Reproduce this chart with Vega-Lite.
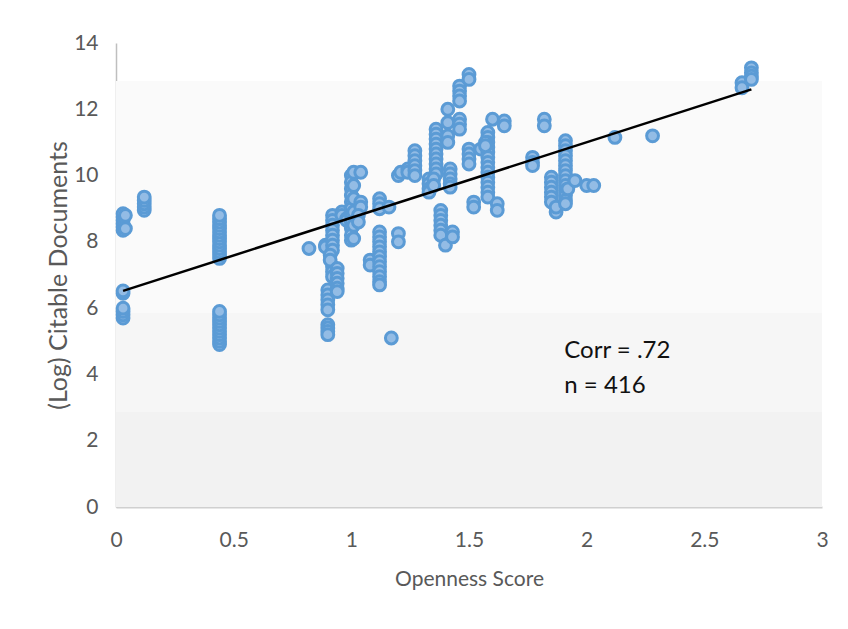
{
  "$schema": "https://vega.github.io/schema/vega-lite/v6.json",
  "autosize": {"type": "none"},
  "width": 706,
  "height": 464,
  "padding": {"left": 116, "top": 43, "right": 26, "bottom": 122},
  "background": "#ffffff",
  "config": {
    "view": {"stroke": null},
    "font": "Lato",
    "axis": {"labelFont": "Lato", "titleFont": "Lato", "labelColor": "#595959", "titleColor": "#595959", "labelFontSize": 21, "titleFontSize": 21, "titleFontWeight": "normal", "grid": false, "ticks": false}
  },
  "datasets": {
    "bands": [
      {"lo": 0, "hi": 2.87, "band": "b1"},
      {"lo": 2.87, "hi": 5.85, "band": "b2"},
      {"lo": 5.85, "hi": 12.85, "band": "b3"}
    ],
    "pts": [
      {"x":0.03,"y":8.35},{"x":0.03,"y":8.45},{"x":0.03,"y":8.55},{"x":0.03,"y":8.65},{"x":0.03,"y":8.75},{"x":0.03,"y":8.85},{"x":0.04,"y":8.4},{"x":0.04,"y":8.8},
      {"x":0.03,"y":6.45},{"x":0.03,"y":6.52},{"x":0.03,"y":5.7},{"x":0.03,"y":5.8},{"x":0.03,"y":5.9},{"x":0.03,"y":6.0},
      {"x":0.12,"y":8.95},{"x":0.12,"y":9.05},{"x":0.12,"y":9.15},{"x":0.12,"y":9.25},{"x":0.12,"y":9.35},
      {"x":0.44,"y":7.5},{"x":0.44,"y":7.6},{"x":0.44,"y":7.7},{"x":0.44,"y":7.8},{"x":0.44,"y":7.9},{"x":0.44,"y":8.0},{"x":0.44,"y":8.1},{"x":0.44,"y":8.2},{"x":0.44,"y":8.3},{"x":0.44,"y":8.4},{"x":0.44,"y":8.5},{"x":0.44,"y":8.6},{"x":0.44,"y":8.7},{"x":0.44,"y":8.8},
      {"x":0.44,"y":4.9},{"x":0.44,"y":5.0},{"x":0.44,"y":5.1},{"x":0.44,"y":5.2},{"x":0.44,"y":5.3},{"x":0.44,"y":5.4},{"x":0.44,"y":5.5},{"x":0.44,"y":5.6},{"x":0.44,"y":5.7},{"x":0.44,"y":5.8},{"x":0.44,"y":5.9},
      {"x":0.82,"y":7.8},{"x":0.89,"y":7.9},{"x":0.89,"y":7.85},
      {"x":0.9,"y":6.55},{"x":0.9,"y":6.4},{"x":0.9,"y":6.25},{"x":0.9,"y":6.1},{"x":0.9,"y":5.95},{"x":0.9,"y":5.5},{"x":0.9,"y":5.4},{"x":0.9,"y":5.3},{"x":0.9,"y":5.2},
      {"x":0.92,"y":8.8},{"x":0.92,"y":8.65},{"x":0.92,"y":8.5},{"x":0.92,"y":8.35},{"x":0.92,"y":8.2},{"x":0.92,"y":8.05},{"x":0.92,"y":7.9},{"x":0.92,"y":7.75},{"x":0.92,"y":7.25},{"x":0.92,"y":7.1},{"x":0.92,"y":6.95},
      {"x":0.91,"y":7.6},{"x":0.91,"y":7.45},
      {"x":0.94,"y":7.2},{"x":0.94,"y":7.05},{"x":0.94,"y":6.9},{"x":0.94,"y":6.75},{"x":0.94,"y":6.6},{"x":0.94,"y":6.5},
      {"x":0.96,"y":8.9},{"x":0.96,"y":8.8},{"x":0.98,"y":8.7},{"x":0.98,"y":8.65},
      {"x":1.0,"y":10.0},{"x":1.0,"y":9.8},{"x":1.0,"y":9.6},{"x":1.0,"y":9.4},{"x":1.0,"y":9.2},{"x":1.0,"y":9.0},{"x":1.0,"y":8.8},{"x":1.0,"y":8.6},{"x":1.0,"y":8.4},{"x":1.0,"y":8.2},{"x":1.0,"y":8.05},
      {"x":1.01,"y":10.1},{"x":1.01,"y":9.7},{"x":1.01,"y":9.3},{"x":1.01,"y":8.9},{"x":1.01,"y":8.5},{"x":1.01,"y":8.1},
      {"x":1.04,"y":10.1},{"x":1.04,"y":9.2},{"x":1.04,"y":9.05},{"x":1.03,"y":8.8},{"x":1.03,"y":8.6},
      {"x":1.08,"y":7.45},{"x":1.08,"y":7.3},
      {"x":1.12,"y":9.3},{"x":1.12,"y":9.15},{"x":1.12,"y":9.0},{"x":1.12,"y":8.3},{"x":1.12,"y":8.15},{"x":1.12,"y":8.0},{"x":1.12,"y":7.85},{"x":1.12,"y":7.7},{"x":1.12,"y":7.55},{"x":1.12,"y":7.4},{"x":1.12,"y":7.25},{"x":1.12,"y":7.1},{"x":1.12,"y":6.95},{"x":1.12,"y":6.8},{"x":1.12,"y":6.7},
      {"x":1.16,"y":9.05},{"x":1.17,"y":5.1},
      {"x":1.2,"y":8.25},{"x":1.2,"y":8.0},{"x":1.2,"y":10.0},{"x":1.21,"y":10.1},{"x":1.24,"y":10.2},{"x":1.24,"y":10.1},
      {"x":1.27,"y":10.75},{"x":1.27,"y":10.6},{"x":1.27,"y":10.45},{"x":1.27,"y":10.3},{"x":1.27,"y":10.15},{"x":1.27,"y":10.0},
      {"x":1.33,"y":9.9},{"x":1.33,"y":9.75},{"x":1.33,"y":9.6},{"x":1.33,"y":9.5},
      {"x":1.36,"y":11.4},{"x":1.36,"y":11.25},{"x":1.36,"y":11.1},{"x":1.36,"y":10.95},{"x":1.36,"y":10.8},{"x":1.36,"y":10.65},{"x":1.36,"y":10.5},{"x":1.36,"y":10.35},{"x":1.36,"y":10.2},{"x":1.36,"y":10.05},
      {"x":1.35,"y":9.9},{"x":1.35,"y":9.7},
      {"x":1.38,"y":8.95},{"x":1.38,"y":8.8},{"x":1.38,"y":8.65},{"x":1.38,"y":8.5},{"x":1.38,"y":8.35},{"x":1.38,"y":8.2},
      {"x":1.4,"y":7.9},{"x":1.43,"y":8.3},{"x":1.43,"y":8.15},
      {"x":1.41,"y":12.0},{"x":1.41,"y":11.6},{"x":1.41,"y":11.2},{"x":1.41,"y":11.0},
      {"x":1.42,"y":10.2},{"x":1.42,"y":10.05},{"x":1.42,"y":9.9},{"x":1.42,"y":9.75},{"x":1.42,"y":9.65},
      {"x":1.46,"y":12.7},{"x":1.46,"y":12.55},{"x":1.46,"y":12.4},{"x":1.46,"y":12.25},{"x":1.46,"y":11.7},{"x":1.46,"y":11.55},{"x":1.46,"y":11.4},
      {"x":1.5,"y":13.05},{"x":1.5,"y":12.9},{"x":1.5,"y":10.8},{"x":1.5,"y":10.65},{"x":1.5,"y":10.5},{"x":1.5,"y":10.35},
      {"x":1.52,"y":9.2},{"x":1.52,"y":9.05},{"x":1.55,"y":10.8},
      {"x":1.58,"y":11.3},{"x":1.58,"y":11.15},{"x":1.58,"y":11.0},{"x":1.58,"y":10.85},{"x":1.58,"y":10.7},{"x":1.58,"y":10.55},{"x":1.58,"y":10.4},{"x":1.58,"y":10.25},{"x":1.58,"y":10.1},{"x":1.58,"y":9.95},{"x":1.58,"y":9.8},{"x":1.58,"y":9.65},{"x":1.58,"y":9.5},{"x":1.58,"y":9.35},
      {"x":1.57,"y":11.0},{"x":1.57,"y":10.9},{"x":1.6,"y":11.7},{"x":1.62,"y":9.15},{"x":1.62,"y":8.95},{"x":1.65,"y":11.65},{"x":1.65,"y":11.5},
      {"x":1.77,"y":10.55},{"x":1.77,"y":10.4},{"x":1.77,"y":10.3},{"x":1.82,"y":11.7},{"x":1.82,"y":11.5},
      {"x":1.85,"y":9.95},{"x":1.85,"y":9.8},{"x":1.85,"y":9.65},{"x":1.85,"y":9.5},{"x":1.85,"y":9.35},{"x":1.85,"y":9.2},{"x":1.87,"y":8.9},{"x":1.87,"y":9.05},
      {"x":1.91,"y":11.05},{"x":1.91,"y":10.9},{"x":1.91,"y":10.75},{"x":1.91,"y":10.6},{"x":1.91,"y":10.45},{"x":1.91,"y":10.3},{"x":1.91,"y":10.15},{"x":1.91,"y":10.0},{"x":1.91,"y":9.85},{"x":1.91,"y":9.7},{"x":1.91,"y":9.55},{"x":1.91,"y":9.4},{"x":1.91,"y":9.25},{"x":1.91,"y":9.15},
      {"x":1.92,"y":9.6},{"x":1.95,"y":9.85},{"x":2.0,"y":9.7},{"x":2.03,"y":9.7},
      {"x":2.12,"y":11.15},{"x":2.28,"y":11.2},
      {"x":2.66,"y":12.8},{"x":2.66,"y":12.65},{"x":2.7,"y":13.25},{"x":2.7,"y":13.1},{"x":2.7,"y":13.0},{"x":2.7,"y":12.9}
    ],
    "trend": [{"x": 0.03, "y": 6.52}, {"x": 2.7, "y": 12.6}],
    "notes": [{"x": 1.905, "y": 4.71, "t": "Corr = .72"}, {"x": 1.905, "y": 3.65, "t": "n = 416"}]
  },
  "layer": [
    {
      "data": {"name": "bands"},
      "mark": {"type": "rect"},
      "encoding": {
        "y": {"field": "lo", "type": "quantitative", "scale": {"domain": [0, 14]}},
        "y2": {"field": "hi"},
        "color": {"field": "band", "type": "nominal", "scale": {"domain": ["b1", "b2", "b3"], "range": ["#f2f2f2", "#f6f6f6", "#fafafa"]}, "legend": null}
      }
    },
    {
      "data": {"name": "pts"},
      "mark": {"type": "point", "shape": "circle", "filled": true, "size": 140, "fill": "#93bce5", "stroke": "#5b9bd5", "strokeWidth": 3, "opacity": 1},
      "encoding": {
        "x": {"field": "x", "type": "quantitative", "scale": {"domain": [0, 3], "nice": false}, "axis": {"title": "Openness Score", "values": [0, 0.5, 1, 1.5, 2, 2.5, 3], "format": "~g", "domainColor": "#d0d0d0", "domainWidth": 2, "labelPadding": 22, "titlePadding": 18, "labelFlush": false}},
        "y": {"field": "y", "type": "quantitative", "scale": {"domain": [0, 14], "nice": false}, "axis": {"title": "(Log) Citable Documents", "titleFontSize": 25, "values": [0, 2, 4, 6, 8, 10, 12, 14], "domainColor": "#bfbfbf", "domainWidth": 1.5, "labelPadding": 18, "titlePadding": 2, "labelFlush": false}}
      }
    },
    {
      "data": {"name": "trend"},
      "mark": {"type": "line", "color": "#000000", "strokeWidth": 2.5},
      "encoding": {
        "x": {"field": "x", "type": "quantitative"},
        "y": {"field": "y", "type": "quantitative"}
      }
    },
    {
      "data": {"name": "notes"},
      "mark": {"type": "text", "align": "left", "baseline": "middle", "fontSize": 24, "font": "Lato", "color": "#111111"},
      "encoding": {
        "x": {"field": "x", "type": "quantitative"},
        "y": {"field": "y", "type": "quantitative"},
        "text": {"field": "t"}
      }
    }
  ]
}
